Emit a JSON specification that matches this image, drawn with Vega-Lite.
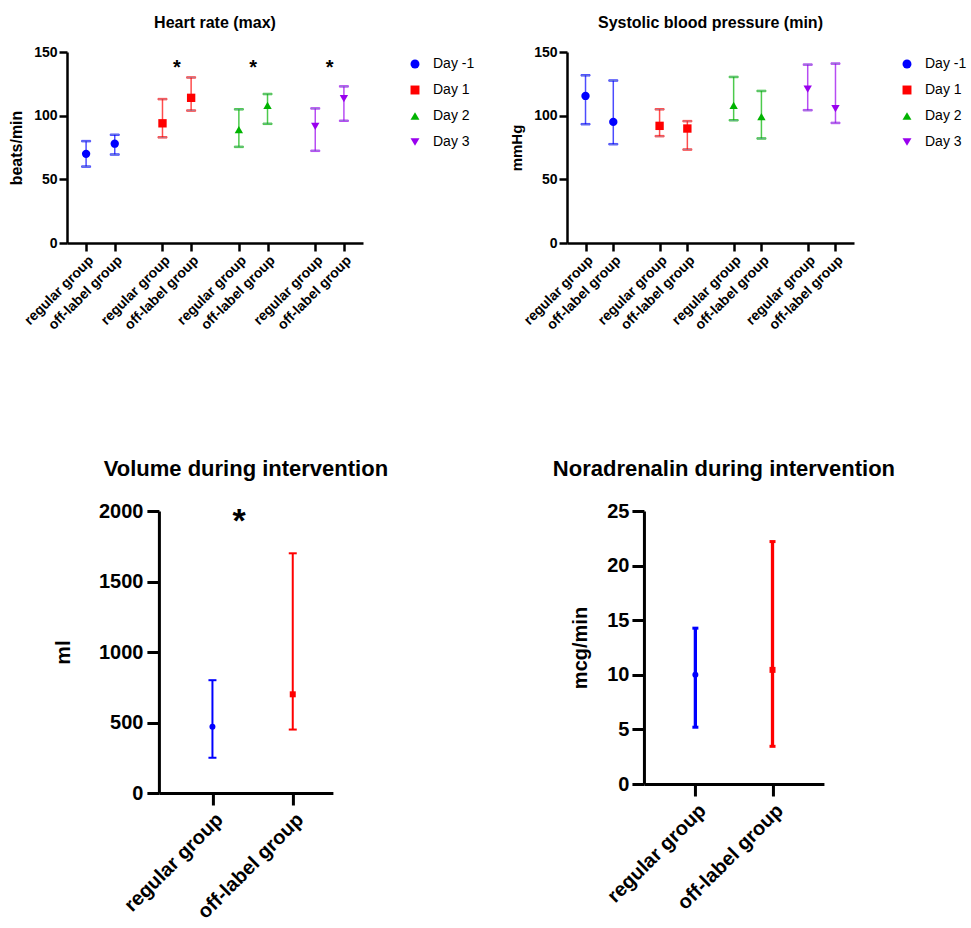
{
  "$schema": "https://vega.github.io/schema/vega-lite/v6.json",
  "background": "white",
  "padding": {"left": 8, "top": 15, "right": 0, "bottom": 0},
  "config": {
    "font": "Liberation Sans",
    "view": {"stroke": null},
    "axis": {"grid": false, "domainColor": "#000", "tickColor": "#000", "labelColor": "#000", "titleColor": "#000", "labelFontWeight": "bold", "titleFontWeight": "bold"},
    "title": {"fontWeight": "bold", "color": "#000", "frame": "group", "anchor": "middle"},
    "legend": {"labelFontSize": 14, "labelColor": "#000", "symbolSize": 80, "rowPadding": 12, "labelOffset": 11, "padding": 5}
  },
  "datasets": {
    "hr": [
      {"Day": "Day -1", "group": "regular group", "key": "Day -1|regular group", "mean": 70, "lo": 60, "hi": 80},
      {"Day": "Day -1", "group": "off-label group", "key": "Day -1|off-label group", "mean": 78, "lo": 69.5, "hi": 85},
      {"Day": "Day 1", "group": "regular group", "key": "Day 1|regular group", "mean": 94, "lo": 83, "hi": 113},
      {"Day": "Day 1", "group": "off-label group", "key": "Day 1|off-label group", "mean": 114, "lo": 104, "hi": 130},
      {"Day": "Day 2", "group": "regular group", "key": "Day 2|regular group", "mean": 89, "lo": 75.5, "hi": 105},
      {"Day": "Day 2", "group": "off-label group", "key": "Day 2|off-label group", "mean": 108, "lo": 93.6, "hi": 117},
      {"Day": "Day 3", "group": "regular group", "key": "Day 3|regular group", "mean": 91.5, "lo": 72.4, "hi": 105.7},
      {"Day": "Day 3", "group": "off-label group", "key": "Day 3|off-label group", "mean": 113.3, "lo": 96, "hi": 123}
    ],
    "hr_star": [
      {"key": "Day 1|*", "label": "*"},
      {"key": "Day 2|*", "label": "*"},
      {"key": "Day 3|*", "label": "*"}
    ],
    "sbp": [
      {"Day": "Day -1", "group": "regular group", "key": "Day -1|regular group", "mean": 115.5, "lo": 93.3, "hi": 131.7},
      {"Day": "Day -1", "group": "off-label group", "key": "Day -1|off-label group", "mean": 95.1, "lo": 77.6, "hi": 127.6},
      {"Day": "Day 1", "group": "regular group", "key": "Day 1|regular group", "mean": 92, "lo": 83.9, "hi": 105},
      {"Day": "Day 1", "group": "off-label group", "key": "Day 1|off-label group", "mean": 89.9, "lo": 73.4, "hi": 95.7},
      {"Day": "Day 2", "group": "regular group", "key": "Day 2|regular group", "mean": 108, "lo": 96.4, "hi": 130.4},
      {"Day": "Day 2", "group": "off-label group", "key": "Day 2|off-label group", "mean": 99.3, "lo": 82.1, "hi": 119.4},
      {"Day": "Day 3", "group": "regular group", "key": "Day 3|regular group", "mean": 120.8, "lo": 104.3, "hi": 140.1},
      {"Day": "Day 3", "group": "off-label group", "key": "Day 3|off-label group", "mean": 105.6, "lo": 94.3, "hi": 140.9}
    ],
    "vol": [
      {"group": "regular group", "mean": 470, "lo": 250, "hi": 800},
      {"group": "off-label group", "mean": 700, "lo": 450, "hi": 1700}
    ],
    "nor": [
      {"group": "regular group", "mean": 10.0, "lo": 5.2, "hi": 14.27},
      {"group": "off-label group", "mean": 10.45, "lo": 3.45, "hi": 22.2}
    ]
  },
  "spacing": 29,
  "resolve": {"scale": {"color": "independent", "shape": "independent", "stroke": "independent"}, "legend": {"color": "independent", "shape": "independent", "stroke": "independent"}},
  "hconcat": [
    {
      "center": true,
      "spacing": 125,
      "resolve": {"scale": {"color": "independent", "shape": "independent", "stroke": "independent"}, "legend": {"color": "independent", "shape": "independent", "stroke": "independent"}},
      "vconcat": [
        {
          "title": {"text": "Heart rate (max)", "fontSize": 16, "offset": 14},
          "width": 296,
          "height": 191,
          "data": {"name": "hr"},
          "encoding": {
            "x": {
              "field": "key", "type": "nominal",
              "scale": {"type": "point", "padding": 0, "domain": ["_p1","_p2","_p3","_p4","Day -1|regular group","_1","_2","_3","_4","_5","Day -1|off-label group","_7","_8","_9","_10","_11","_12","_13","_14","_15","Day 1|regular group","_17","_18","Day 1|*","_20","_21","Day 1|off-label group","_23","_24","_25","_26","_27","_28","_29","_30","_31","Day 2|regular group","_33","_34","Day 2|*","_36","_37","Day 2|off-label group","_39","_40","_41","_42","_43","_44","_45","_46","_47","Day 3|regular group","_49","_50","Day 3|*","_52","_53","Day 3|off-label group","_q1","_q2","_q3","_q4"]},
              "axis": {"title": null, "values": ["Day -1|regular group","Day -1|off-label group","Day 1|regular group","Day 1|off-label group","Day 2|regular group","Day 2|off-label group","Day 3|regular group","Day 3|off-label group"], "labelExpr": "split(datum.value, '|')[1]", "labelAngle": -45, "labelAlign": "right", "labelBaseline": "top", "labelFontSize": 14, "labelOverlap": false, "tickSize": 8, "tickWidth": 2.5, "domainWidth": 2.5, "labelPadding": 2}
            }
          },
          "layer": [
            {
              "mark": {"type": "rule", "strokeWidth": 1.5, "opacity": 0.7},
              "encoding": {
                "y": {"field": "lo", "type": "quantitative", "title": "beats/min", "scale": {"domain": [0, 150], "nice": false}, "axis": {"values": [0, 50, 100, 150], "titleFontSize": 16, "labelFontSize": 14, "tickSize": 8, "tickWidth": 2.5, "domainWidth": 2.5, "labelPadding": 2, "titlePadding": 9}},
                "y2": {"field": "hi"},
                "stroke": {"field": "Day", "type": "nominal", "scale": {"domain": ["Day 3", "Day 2", "Day 1", "Day -1"], "range": ["#9900ee", "#00b300", "#ff0000", "#0000ff"]}, "legend": null}
              }
            },
            {
              "mark": {"type": "tick", "size": 9, "thickness": 1.5, "opacity": 0.7},
              "encoding": {"y": {"field": "lo", "type": "quantitative", "title": "beats/min"}, "stroke": {"field": "Day", "type": "nominal", "legend": null}}
            },
            {
              "mark": {"type": "tick", "size": 9, "thickness": 1.5, "opacity": 0.7},
              "encoding": {"y": {"field": "hi", "type": "quantitative", "title": "beats/min"}, "stroke": {"field": "Day", "type": "nominal", "legend": null}}
            },
            {
              "mark": {"type": "point", "filled": true, "size": 70, "opacity": 1},
              "encoding": {
                "y": {"field": "mean", "type": "quantitative", "title": "beats/min"},
                "color": {"field": "Day", "type": "nominal", "scale": {"domain": ["Day -1", "Day 1", "Day 2", "Day 3"], "range": ["#0000ff", "#ff0000", "#00b300", "#9900ee"]}, "legend": {"title": null, "orient": "right", "offset": 40}},
                "shape": {"field": "Day", "type": "nominal", "scale": {"domain": ["Day -1", "Day 1", "Day 2", "Day 3"], "range": ["circle", "square", "triangle-up", "triangle-down"]}, "legend": {"title": null, "orient": "right", "offset": 40}}
              }
            },
            {
              "data": {"name": "hr_star"},
              "mark": {"type": "text", "fontSize": 20, "fontWeight": "bold", "baseline": "alphabetic", "color": "#000"},
              "encoding": {"y": {"datum": 133}, "text": {"field": "label"}}
            }
          ]
        },
        {
          "title": {"text": "Volume during intervention", "fontSize": 22, "offset": 20},
          "width": 174,
          "height": 282,
          "data": {"name": "vol"},
          "encoding": {
            "x": {
              "field": "group", "type": "nominal",
              "scale": {"type": "point", "padding": 0, "domain": ["_a", "_b", "_c", "_d", "regular group", "_e", "*", "_f", "_g", "_h", "off-label group", "_i", "_j", "_k"]},
              "axis": {"title": null, "values": ["regular group", "off-label group"], "labelAngle": -45, "labelAlign": "right", "labelBaseline": "top", "labelFontSize": 20, "labelOverlap": false, "tickSize": 12, "tickWidth": 3, "domainWidth": 3, "labelPadding": 4}
            }
          },
          "layer": [
            {
              "mark": {"type": "rule", "strokeWidth": 2},
              "encoding": {
                "y": {"field": "lo", "type": "quantitative", "title": "ml", "scale": {"domain": [0, 2000], "nice": false}, "axis": {"values": [0, 500, 1000, 1500, 2000], "format": "d", "titleFontSize": 21, "labelFontSize": 20, "tickSize": 12, "tickWidth": 3, "domainWidth": 3, "labelPadding": 4, "titlePadding": 25}},
                "y2": {"field": "hi"},
                "color": {"field": "group", "type": "nominal", "scale": {"domain": ["regular group", "off-label group"], "range": ["#0000ff", "#ff0000"]}, "legend": null}
              }
            },
            {
              "mark": {"type": "tick", "size": 8, "thickness": 2, "opacity": 1},
              "encoding": {"y": {"field": "lo", "type": "quantitative", "title": "ml"}, "color": {"field": "group", "type": "nominal", "legend": null}}
            },
            {
              "mark": {"type": "tick", "size": 8, "thickness": 2, "opacity": 1},
              "encoding": {"y": {"field": "hi", "type": "quantitative", "title": "ml"}, "color": {"field": "group", "type": "nominal", "legend": null}}
            },
            {
              "mark": {"type": "point", "filled": true, "size": 36, "opacity": 1},
              "encoding": {
                "y": {"field": "mean", "type": "quantitative", "title": "ml"},
                "color": {"field": "group", "type": "nominal", "legend": null},
                "shape": {"field": "group", "type": "nominal", "scale": {"domain": ["regular group", "off-label group"], "range": ["circle", "square"]}, "legend": null}
              }
            },
            {
              "data": {"values": [{"group": "*", "label": "*"}]},
              "mark": {"type": "text", "fontSize": 34, "fontWeight": "bold", "baseline": "alphabetic", "color": "#000"},
              "encoding": {"y": {"datum": 1850}, "text": {"field": "label"}}
            }
          ]
        }
      ]
    },
    {
      "center": true,
      "spacing": 125,
      "resolve": {"scale": {"color": "independent", "shape": "independent", "stroke": "independent"}, "legend": {"color": "independent", "shape": "independent", "stroke": "independent"}},
      "vconcat": [
        {
          "title": {"text": "Systolic blood pressure (min)", "fontSize": 16, "offset": 14},
          "width": 287,
          "height": 191,
          "data": {"name": "sbp"},
          "encoding": {
            "x": {
              "field": "key", "type": "nominal",
              "scale": {"type": "point", "padding": 0, "domain": ["_p1","_p2","_p3","_p4","Day -1|regular group","_1","_2","_3","_4","_5","Day -1|off-label group","_7","_8","_9","_10","_11","_12","_13","_14","_15","Day 1|regular group","_17","_18","Day 1|*","_20","_21","Day 1|off-label group","_23","_24","_25","_26","_27","_28","_29","_30","_31","Day 2|regular group","_33","_34","Day 2|*","_36","_37","Day 2|off-label group","_39","_40","_41","_42","_43","_44","_45","_46","_47","Day 3|regular group","_49","_50","Day 3|*","_52","_53","Day 3|off-label group","_q1","_q2","_q3","_q4"]},
              "axis": {"title": null, "values": ["Day -1|regular group","Day -1|off-label group","Day 1|regular group","Day 1|off-label group","Day 2|regular group","Day 2|off-label group","Day 3|regular group","Day 3|off-label group"], "labelExpr": "split(datum.value, '|')[1]", "labelAngle": -45, "labelAlign": "right", "labelBaseline": "top", "labelFontSize": 14, "labelOverlap": false, "tickSize": 8, "tickWidth": 2.5, "domainWidth": 2.5, "labelPadding": 2}
            }
          },
          "layer": [
            {
              "mark": {"type": "rule", "strokeWidth": 1.5, "opacity": 0.7},
              "encoding": {
                "y": {"field": "lo", "type": "quantitative", "title": "mmHg", "scale": {"domain": [0, 150], "nice": false}, "axis": {"values": [0, 50, 100, 150], "titleFontSize": 15, "labelFontSize": 14, "tickSize": 8, "tickWidth": 2.5, "domainWidth": 2.5, "labelPadding": 2, "titlePadding": 9}},
                "y2": {"field": "hi"},
                "stroke": {"field": "Day", "type": "nominal", "scale": {"domain": ["Day 3", "Day 2", "Day 1", "Day -1"], "range": ["#9900ee", "#00b300", "#ff0000", "#0000ff"]}, "legend": null}
              }
            },
            {
              "mark": {"type": "tick", "size": 9, "thickness": 1.5, "opacity": 0.7},
              "encoding": {"y": {"field": "lo", "type": "quantitative", "title": "mmHg"}, "stroke": {"field": "Day", "type": "nominal", "legend": null}}
            },
            {
              "mark": {"type": "tick", "size": 9, "thickness": 1.5, "opacity": 0.7},
              "encoding": {"y": {"field": "hi", "type": "quantitative", "title": "mmHg"}, "stroke": {"field": "Day", "type": "nominal", "legend": null}}
            },
            {
              "mark": {"type": "point", "filled": true, "size": 70, "opacity": 1},
              "encoding": {
                "y": {"field": "mean", "type": "quantitative", "title": "mmHg"},
                "color": {"field": "Day", "type": "nominal", "scale": {"domain": ["Day -1", "Day 1", "Day 2", "Day 3"], "range": ["#0000ff", "#ff0000", "#00b300", "#9900ee"]}, "legend": {"title": null, "orient": "right", "offset": 41}},
                "shape": {"field": "Day", "type": "nominal", "scale": {"domain": ["Day -1", "Day 1", "Day 2", "Day 3"], "range": ["circle", "square", "triangle-up", "triangle-down"]}, "legend": {"title": null, "orient": "right", "offset": 41}}
              }
            }
          ]
        },
        {
          "title": {"text": "Noradrenalin during intervention", "fontSize": 22, "offset": 20, "dx": -10},
          "width": 180,
          "height": 273,
          "data": {"name": "nor"},
          "encoding": {
            "x": {
              "field": "group", "type": "nominal",
              "scale": {"type": "point", "padding": 0, "domain": ["_a", "_b", "_c", "_d", "regular group", "_e", "_f", "_g", "_h", "_i", "off-label group", "_j", "_k", "_l", "_m"]},
              "axis": {"title": null, "values": ["regular group", "off-label group"], "labelAngle": -45, "labelAlign": "right", "labelBaseline": "top", "labelFontSize": 20, "labelOverlap": false, "tickSize": 12, "tickWidth": 3, "domainWidth": 3, "labelPadding": 4}
            }
          },
          "layer": [
            {
              "mark": {"type": "rule", "strokeWidth": 3.3},
              "encoding": {
                "y": {"field": "lo", "type": "quantitative", "title": "mcg/min", "scale": {"domain": [0, 25], "nice": false}, "axis": {"values": [0, 5, 10, 15, 20, 25], "titleFontSize": 20, "labelFontSize": 20, "tickSize": 12, "tickWidth": 3, "domainWidth": 3, "labelPadding": 3, "titlePadding": 16}},
                "y2": {"field": "hi"},
                "color": {"field": "group", "type": "nominal", "scale": {"domain": ["regular group", "off-label group"], "range": ["#0000ff", "#ff0000"]}, "legend": null}
              }
            },
            {
              "mark": {"type": "tick", "size": 6, "thickness": 3, "opacity": 1},
              "encoding": {"y": {"field": "lo", "type": "quantitative", "title": "mcg/min"}, "color": {"field": "group", "type": "nominal", "legend": null}}
            },
            {
              "mark": {"type": "tick", "size": 6, "thickness": 3, "opacity": 1},
              "encoding": {"y": {"field": "hi", "type": "quantitative", "title": "mcg/min"}, "color": {"field": "group", "type": "nominal", "legend": null}}
            },
            {
              "mark": {"type": "point", "filled": true, "size": 36, "opacity": 1},
              "encoding": {
                "y": {"field": "mean", "type": "quantitative", "title": "mcg/min"},
                "color": {"field": "group", "type": "nominal", "legend": null},
                "shape": {"field": "group", "type": "nominal", "scale": {"domain": ["regular group", "off-label group"], "range": ["circle", "square"]}, "legend": null}
              }
            }
          ]
        }
      ]
    }
  ]
}
